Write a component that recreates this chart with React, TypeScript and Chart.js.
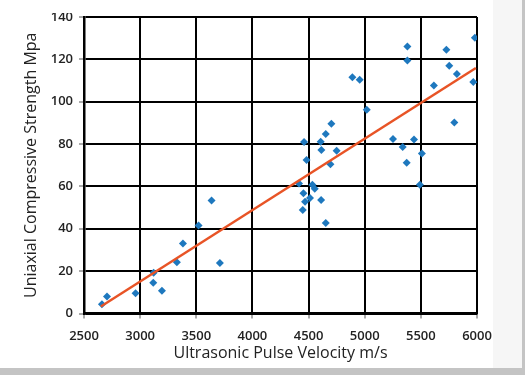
import React, { useEffect, useRef } from "react";
import { Chart, registerables } from "chart.js";

Chart.register(...registerables);

const velocity = [
  2660, 2705, 2959, 3117, 3120, 3194, 3327, 3381, 3520, 3636, 3710,
  4415, 4448, 4454, 4460, 4469, 4482, 4513, 4534, 4555, 4608, 4612,
  4614, 4653, 4653, 4695, 4703, 4750, 4890, 4955, 5018, 5252, 5338,
  5374, 5380, 5380, 5439, 5491, 5509, 5616, 5727, 5753, 5798, 5821,
  5967, 5981,
];
const strength = [
  4.4, 8, 9.6, 14.5, 19.2, 10.8, 24.2, 33, 41.6, 53.3, 23.9,
  61.4, 48.9, 56.8, 81, 52.8, 72.5, 54.5, 60.8, 58.9, 81.1, 53.6,
  77.2, 84.8, 42.7, 70.5, 89.6, 76.9, 111.6, 110.4, 96.2, 82.4, 78.6,
  71.2, 126.1, 119.5, 82.1, 60.8, 75.6, 107.7, 124.5, 117, 90.2, 113.1,
  109.3, 130.2,
];
const trendX = [2650, 5990];
const trendY = [3.3, 115.9];

const xTitle = "Ultrasonic Pulse Velocity m/s";
const yTitle = "Uniaxial Compressive Strength Mpa";

export default function App() {
  const ref = useRef<HTMLCanvasElement | null>(null);

  useEffect(() => {
    document.body.style.margin = "0";
    const canvas = ref.current;
    if (!canvas) return;
    const font = "'Open Sans', 'Noto Sans', sans-serif";
    const chart = new Chart(canvas, {
      type: "scatter",
      data: {
        datasets: [
          {
            type: "line",
            data: trendX.map((x, i) => ({ x, y: trendY[i] })),
            borderColor: "rgb(232,84,38)",
            borderWidth: 2.5,
            pointRadius: 0,
            fill: false,
          },
          {
            data: velocity.map((x, i) => ({ x, y: strength[i] })),
            pointStyle: "rectRot",
            pointRadius: 4,
            backgroundColor: "rgb(30,120,190)",
            borderColor: "rgb(30,120,190)",
            borderWidth: 0,
          },
        ],
      },
      options: {
        responsive: false,
        animation: false,
        layout: { padding: { top: 17, right: 48, bottom: 0, left: 0 } },
        plugins: { legend: { display: false }, tooltip: { enabled: false } },
        scales: {
          x: {
            type: "linear",
            min: 2500,
            max: 6000,
            ticks: {
              stepSize: 500,
              color: "#222",
              font: { family: font, size: 13, weight: "600" },
              padding: 10,
              callback: (v: any) => String(v),
            },
            grid: { color: "#000", lineWidth: 2, tickLength: 5, tickColor: "#555", tickWidth: 1 },
            border: { color: "#000", width: 2.5 },
            title: {
              display: true,
              text: xTitle,
              color: "#222",
              font: { family: font, size: 16 },
              padding: { top: 0, bottom: 12 },
            },
            afterFit: (s: any) => {
              s.height = 61.5;
            },
          },
          y: {
            type: "linear",
            min: 0,
            max: 140,
            ticks: {
              stepSize: 20,
              color: "#222",
              font: { family: font, size: 13, weight: "600" },
              padding: 6,
              callback: (v: any) => String(v),
            },
            grid: { color: "#000", lineWidth: 2, tickLength: 5, tickColor: "#555", tickWidth: 1 },
            border: { color: "#000", width: 2.5 },
            title: {
              display: true,
              text: yTitle,
              color: "#222",
              font: { family: font, size: 16 },
              padding: { top: 22, bottom: 0 },
            },
            afterFit: (s: any) => {
              s.width = 84;
            },
          },
        },
      },
    });
    return () => chart.destroy();
  }, []);

  return (
    <div style={{ position: "fixed", left: 0, top: 0, width: 525, height: 375, background: "#fff", overflow: "hidden" }}>
      <canvas ref={ref} width={525} height={375} style={{ position: "absolute", left: 0, top: 0 }} />
      <div style={{ position: "absolute", left: 0, top: 0, width: 525, height: 13, background: "#fff" }} />
      <div style={{ position: "absolute", left: 493, top: 0, width: 29, height: 368, background: "#f6f6f6" }} />
      <div style={{ position: "absolute", left: 522, top: 0, width: 3, height: 375, background: "#c4c4c4" }} />
      <div style={{ position: "absolute", left: 0, top: 368, width: 525, height: 7, background: "#c4c4c4" }} />
    </div>
  );
}
